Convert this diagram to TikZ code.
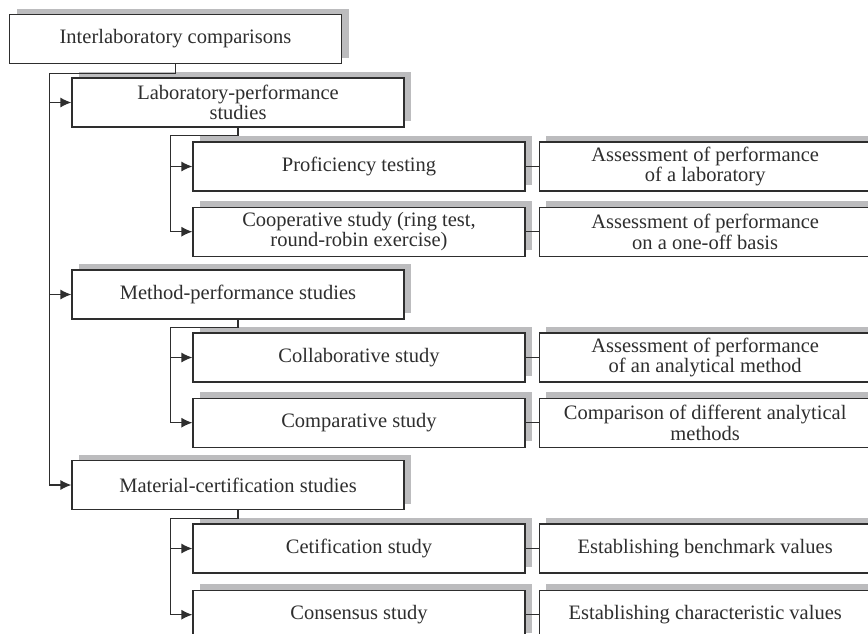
\documentclass[tikz,border=0pt]{standalone}
\usepackage{fontspec}
\setmainfont{Liberation Serif}
\usetikzlibrary{arrows.meta,positioning,shadows}
\definecolor{shade}{HTML}{BCBCBE}
\definecolor{ink}{HTML}{2E2E2E}
\tikzset{
  box/.style={draw=ink, line width=1.2pt, fill=white, minimum width=332pt, minimum height=49pt,
    inner sep=0pt, align=center, text=ink, font=\fontsize{20.5}{20.5}\selectfont,
    drop shadow={shadow xshift=7pt, shadow yshift=6pt, fill=shade, opacity=1}},
  link/.style={draw=ink, line width=1.2pt},
}
\begin{document}
\begin{tikzpicture}[x=1pt, y=-1pt, >={Latex[length=11pt,width=10pt]}, node distance=15pt]
\useasboundingbox (0,0) rectangle (868,633);
\clip (0,0) rectangle (868,633);
% root and the three kinds of study
\node[box] (inter) at (175.5,39) {Interlaboratory comparisons};
\node[box] (lab) at (238,102.5) {Laboratory-performance\\studies};
\node[box] (meth) at (238,294.5) {Method-performance studies};
\node[box] (mat) at (238,485) {Material-certification studies};
% laboratory-performance
\node[box] (prof) at (359,166.5) {Proficiency testing};
\node[box, below=of prof] (coop) {Cooperative study (ring test,\\round-robin exercise)};
\node[box, right=13pt of prof] (profr) {Assessment of performance\\of a laboratory};
\node[box, right=13pt of coop] (coopr) {Assessment of performance\\on a one-off basis};
% method-performance
\node[box] (coll) at (359,357.5) {Collaborative study};
\node[box, below=of coll] (comp) {Comparative study};
\node[box, right=13pt of coll] (collr) {Assessment of performance\\of an analytical method};
\node[box, right=13pt of comp] (compr) {Comparison of different analytical\\methods};
% material-certification
\node[box] (cert) at (359,548.5) {Cetification study};
\node[box, below=16pt of cert] (cons) {Consensus study};
\node[box, right=13pt of cert] (certr) {Establishing benchmark values};
\node[box, right=13pt of cons] (consr) {Establishing characteristic values};
% connectors
\draw[link,->] (inter.south) -- ++(0,9) -| ([xshift=-22pt]mat.west) -- (mat.west);
\draw[link,->] ([xshift=-22pt]lab.west) -- (lab.west);
\draw[link,->] ([xshift=-22pt]meth.west) -- (meth.west);
\draw[link,->] (lab.south) -- ++(0,8) -| ([xshift=-22pt]coop.west) -- (coop.west);
\draw[link,->] ([xshift=-22pt]prof.west) -- (prof.west);
\draw[link,->] (meth.south) -- ++(0,8) -| ([xshift=-22pt]comp.west) -- (comp.west);
\draw[link,->] ([xshift=-22pt]coll.west) -- (coll.west);
\draw[link,->] (mat.south) -- ++(0,8) -| ([xshift=-22pt]cons.west) -- (cons.west);
\draw[link,->] ([xshift=-22pt]cert.west) -- (cert.west);
\draw[link] (prof) -- (profr);
\draw[link] (coop) -- (coopr);
\draw[link] (coll) -- (collr);
\draw[link] (comp) -- (compr);
\draw[link] (cert) -- (certr);
\draw[link] (cons) -- (consr);
\end{tikzpicture}
\end{document}
